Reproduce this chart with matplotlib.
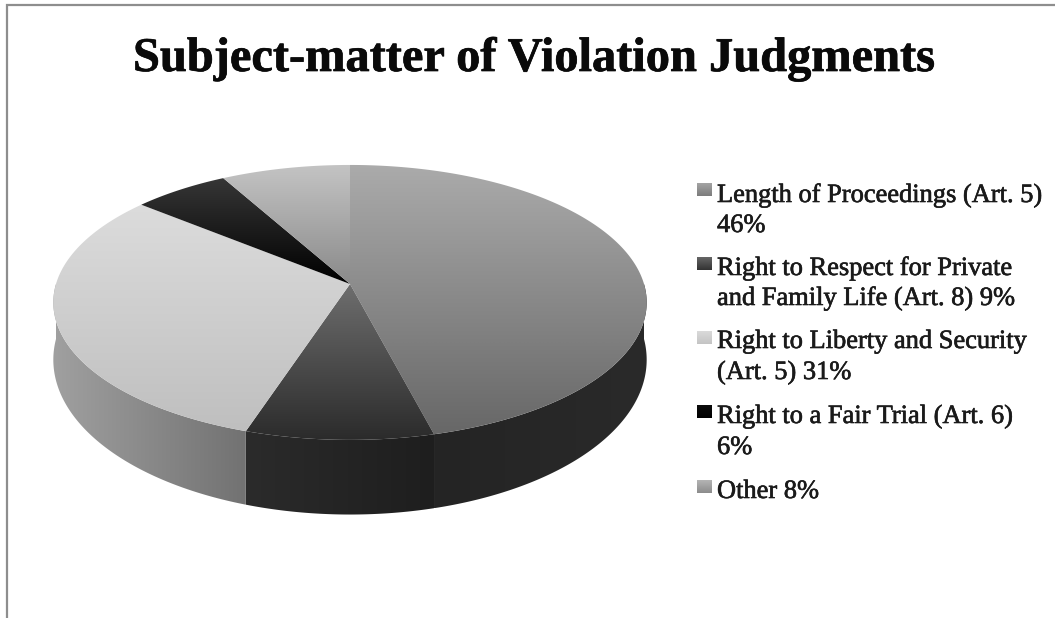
import numpy as np
import matplotlib
matplotlib.use("Agg")
import matplotlib.pyplot as plt
import matplotlib.patheffects as pe
from matplotlib.patches import Polygon
from matplotlib.colors import LinearSegmentedColormap

TITLE = "Subject-matter of Violation Judgments"
categories = ["Length of Proceedings (Art. 5)", "Right to Respect for Private",
              "Right to Liberty and Security", "Right to a Fair Trial (Art. 6)", "Other"]
legend_lines = [["Length of Proceedings (Art. 5)", "46%"],
                ["Right to Respect for Private", "and Family Life (Art. 8) 9%"],
                ["Right to Liberty and Security", "(Art. 5) 31%"],
                ["Right to a Fair Trial (Art. 6)", "6%"],
                ["Other 8%"]]
values = [46, 9, 31, 6, 8]
top_colors = [("#ababab", "#676767"), ("#6e6e6e", "#2b2b2b"), ("#dcdcdc", "#bfbfbf"),
              ("#363636", "#000000"), ("#c4c4c4", "#8a8a8a")]
side_colors = [("#242424", "#2a2a2a"), ("#2b2b2b", "#1e1e1e"), ("#a0a0a0", "#727272"),
               ("#222222", "#111111"), ("#888888", "#666666")]
swatch_colors = [("#7c7c7c", "#a4a4a4"), ("#333333", "#666666"), ("#c4c4c4", "#dadada"),
                 ("#000000", "#0c0c0c"), ("#8c8c8c", "#b4b4b4")]
legend_baselines = [[202, 232], [275, 305], [348, 379], [423, 454], [498]]
swatch_tops = [183, 257, 331, 405, 480]

FONT = "Liberation Serif"
fig = plt.figure(figsize=(10.55, 6.18), dpi=100, facecolor="white")
ax = fig.add_axes([0, 0, 1, 1])
ax.axis("off")


def project(theta, x0, y0, R, b, k):
    c, s = np.cos(theta), np.sin(theta)
    d = 1 + k * c
    return x0 + R * s / d, y0 - b * c / d


X0, Y0, R, B, K = 350, 284, 294, 135, 0.134
Y1, F = 339, 1.126


def grad_fill(poly, c0, c1, vertical=True, zorder=2):
    xs, ys = poly[:, 0], poly[:, 1]
    cmap = LinearSegmentedColormap.from_list("g", [c0, c1])
    g = np.linspace(0, 1, 256)
    g = g[:, None] if vertical else g[None, :]
    im = ax.imshow(g, cmap=cmap, vmin=0, vmax=1, aspect="auto", zorder=zorder,
                   extent=(xs.min(), xs.max(), ys.max(), ys.min()), interpolation="bilinear")
    patch = Polygon(poly, closed=True, facecolor="none", edgecolor="none", transform=ax.transData)
    ax.add_patch(patch)
    im.set_clip_path(patch)


edges = np.concatenate([[0], np.cumsum(values)]) / sum(values) * 2 * np.pi

# sides (front half only is visible)
for i in range(len(values)):
    a0, a1 = edges[i], edges[i + 1]
    lo, hi = max(a0, np.pi / 2), min(a1, 3 * np.pi / 2)
    if hi <= lo:
        continue
    t = np.linspace(lo, hi, 160)
    xt, yt = project(t, X0, Y0, R, B, K)
    xb, yb = project(t, X0, Y1, R, B * F, K)
    poly = np.column_stack([np.r_[xt, xb[::-1]], np.r_[yt, yb[::-1]]])
    c0, c1 = side_colors[i]
    grad_fill(poly, c0, c1, vertical=False, zorder=2)

# top faces
for i in range(len(values)):
    t = np.linspace(edges[i], edges[i + 1], 240)
    xt, yt = project(t, X0, Y0, R, B, K)
    poly = np.column_stack([np.r_[X0, xt], np.r_[Y0, yt]])
    c0, c1 = top_colors[i]
    grad_fill(poly, c0, c1, vertical=True, zorder=3)

# frame fragments
ax.plot([6.5, 6.5, 1055], [618, 4.5, 4.5], color="#8e8e8e", lw=1.6, zorder=5,
        solid_joinstyle="miter")

r = fig.canvas.get_renderer()


def fit_size(txt, width, weight):
    t = ax.text(0, 0, txt, family=FONT, weight=weight, fontsize=20)
    w = t.get_window_extent(r).width
    t.remove()
    return 20 * width / w


title_obj = ax.text(133, 71, TITLE, family=FONT, weight="bold", color="#0a0a0a", va="baseline",
                    ha="left", fontsize=fit_size(TITLE, 802, "bold"), zorder=6)
title_obj.set_path_effects([pe.withStroke(linewidth=0.5, foreground="#0a0a0a")])
fs = fit_size(legend_lines[0][0], 325, "normal")
for lines, bases, top, (c0, c1) in zip(legend_lines, legend_baselines, swatch_tops, swatch_colors):
    for line, base in zip(lines, bases):
        tx = ax.text(717, base, line, family=FONT, color="#1a1a1a", fontsize=fs, va="baseline",
                     ha="left", zorder=6)
        tx.set_path_effects([pe.withStroke(linewidth=0.45, foreground="#1a1a1a")])
    g = np.linspace(1, 0, 64)[:, None]
    cmap = LinearSegmentedColormap.from_list("s", [c0, c1])
    ax.imshow(g, cmap=cmap, vmin=0, vmax=1, aspect="auto", zorder=4,
              extent=(697, 712, top + 13, top))

ax.set_xlim(0, 1055)
ax.set_ylim(618, 0)
fig.savefig("out.png", dpi=100, facecolor="white")
